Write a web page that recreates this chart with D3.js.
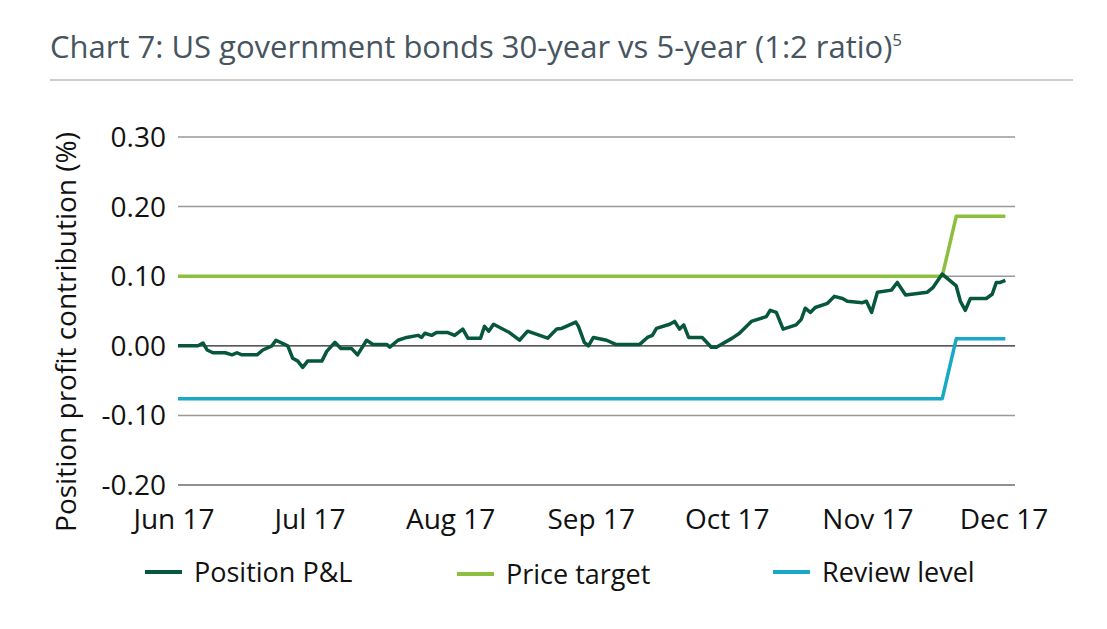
<!DOCTYPE html>
<html>
<head>
<meta charset="utf-8">
<script src="https://cdn.jsdelivr.net/npm/d3@7"></script>
<style>
  body { margin: 0; background: #fff; }
  text { font-family: "Open Sans", "Noto Sans", sans-serif; }
</style>
</head>
<body>
<svg id="chart" width="1107" height="629"></svg>
<script>
// P&L: days after 1 Jun 2017, value in %
var pnlDays = [0,4.4,5.5,6.4,7.7,10.4,11.9,13,14.1,17.4,18.7,20.7,21.6,24.2,25.3,26.4,27.5,28.6,31.7,32.8,34.6,35.9,38.3,39.6,41.6,43,46,46.7,48.5,50.4,52.9,53.7,54.4,55.9,57,59.5,61,62.8,63.9,66.7,67.6,68.5,69.6,73.1,75.3,77.1,81.5,83.5,84.6,87.7,88.3,89.6,90.5,91.6,94.5,96.5,101.8,103.5,104.6,105.5,108.4,109.5,110.6,111.5,112.6,115.6,117.6,118.7,122.2,123.8,126.4,129.7,130.6,131.9,133.4,136.3,137.4,138.3,139.4,140.5,143.2,144.7,146.5,147.6,150.9,151.8,152.9,154.2,157.3,158.6,160.4,165.2,166.5,168.5,171.6,172.5,173.6,174.7,178.2,179.5,180.4,181.3,182.4];
var pnlVals = [0,0,0.004,-0.006,-0.01,-0.01,-0.013,-0.01,-0.013,-0.013,-0.006,0,0.008,0,-0.018,-0.022,-0.031,-0.022,-0.022,-0.008,0.005,-0.004,-0.004,-0.013,0.008,0.002,0.002,-0.002,0.008,0.012,0.015,0.012,0.018,0.015,0.019,0.019,0.015,0.024,0.011,0.011,0.028,0.021,0.031,0.019,0.008,0.021,0.011,0.024,0.025,0.034,0.028,0.005,0,0.012,0.008,0.002,0.002,0.012,0.015,0.025,0.031,0.035,0.024,0.03,0.012,0.012,-0.002,-0.002,0.011,0.018,0.035,0.042,0.051,0.048,0.024,0.03,0.038,0.054,0.048,0.055,0.061,0.071,0.068,0.064,0.062,0.064,0.048,0.077,0.08,0.091,0.073,0.077,0.084,0.103,0.086,0.064,0.051,0.068,0.068,0.074,0.091,0.091,0.094];

var targetDays = [0, 168.5, 171.6, 182.4];
var targetVals = [0.10, 0.10, 0.186, 0.186];
var reviewDays = [0, 168.5, 171.6, 182.4];
var reviewVals = [-0.076, -0.076, 0.01, 0.01];

var yTicks = [0.3, 0.2, 0.1, 0, -0.1, -0.2];
var monthLabels = ["Jun 17","Jul 17","Aug 17","Sep 17","Oct 17","Nov 17","Dec 17"];

var svg = d3.select("#chart");
var start = new Date(2017, 5, 1);
function dayToDate(d) { return d3.timeHour.offset(start, Math.round(d * 24)); }

var x = d3.scaleTime().domain([start, new Date(2017, 11, 1)]).range([178, 1008]);
var y = d3.scaleLinear().domain([-0.2, 0.3]).range([485, 137]);

// title
svg.append("text").attr("x", 50).attr("y", 58).attr("font-size", 31).attr("fill", "#46555f")
  .text("Chart 7: US government bonds 30-year vs 5-year (1:2 ratio)")
  .append("tspan").attr("font-size", 17).attr("dy", -12).text("5");
svg.append("line").attr("x1", 50).attr("x2", 1073).attr("y1", 80).attr("y2", 80)
  .attr("stroke", "#999").attr("stroke-width", 1);

// grid
svg.selectAll(".grid").data(yTicks).enter().append("line")
  .attr("x1", 178).attr("x2", 1015)
  .attr("y1", function(d) { return y(d); }).attr("y2", function(d) { return y(d); })
  .attr("stroke", function(d) { return (d === 0 || d === -0.2) ? "#222" : "#999"; })
  .attr("stroke-width", function(d) { return (d === 0 || d === -0.2) ? 1.2 : 1.5; });

svg.selectAll(".ytick").data(yTicks).enter().append("text")
  .attr("x", 166).attr("y", function(d) { return y(d) + 10; })
  .attr("text-anchor", "end").attr("font-size", 28).attr("fill", "#111")
  .text(function(d) { return d.toFixed(2); });

var months = d3.timeMonth.range(start, new Date(2017, 11, 2));
svg.selectAll(".xtick").data(months).enter().append("text")
  .attr("x", function(d) { return x(d) - 4; }).attr("y", 529)
  .attr("text-anchor", "middle").attr("font-size", 28).attr("fill", "#111")
  .text(function(d, i) { return monthLabels[i]; });

svg.append("text").attr("transform", "translate(76,332) rotate(-90)")
  .attr("text-anchor", "middle").attr("font-size", 28).attr("fill", "#111")
  .text("Position profit contribution (%)");

// lines
var line = d3.line().x(function(d) { return x(dayToDate(d[0])); }).y(function(d) { return y(d[1]); });
function draw(days, vals, col) {
  svg.append("path").datum(d3.zip(days, vals)).attr("d", line)
    .attr("fill", "none").attr("stroke", col).attr("stroke-width", 3.5)
    .attr("stroke-linejoin", "round");
}
draw(targetDays, targetVals, "#8cbf3f");
draw(reviewDays, reviewVals, "#19a8c6");
draw(pnlDays, pnlVals, "#07573a");

// legend
var legend = [["Position P&L", "#07573a", 145, 572], ["Price target", "#8cbf3f", 457, 574], ["Review level", "#19a8c6", 773, 572]];
legend.forEach(function(l) {
  svg.append("line").attr("x1", l[2]).attr("x2", l[2] + 37).attr("y1", l[3]).attr("y2", l[3])
    .attr("stroke", l[1]).attr("stroke-width", 4);
  svg.append("text").attr("x", l[2] + 49).attr("y", l[3] + 10).attr("font-size", 27).attr("fill", "#111").text(l[0]);
});
</script>
</body>
</html>
